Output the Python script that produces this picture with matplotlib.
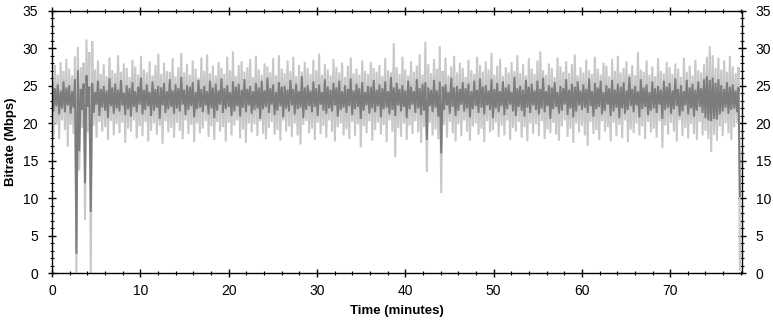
import numpy as np
import matplotlib
matplotlib.use('Agg')
import matplotlib.pyplot as plt
from matplotlib.ticker import MultipleLocator

plt.rcParams['font.family'] = ['Liberation Sans', 'DejaVu Sans']

# Bitrate samples (Mbps), in time order
light_mbps = [
    26.1, 18.2, 27.8, 19.9, 26.5, 17.9, 28.2, 20.4, 27.0, 19.1, 28.6, 16.9,
    27.3, 19.8, 26.4, 18.6, 28.9, 0.0, 30.2, 13.7, 27.5, 19.4, 28.1, 7.1,
    31.2, 18.8, 29.5, 0.0, 31.0, 19.7, 27.2, 18.1, 28.4, 20.2, 26.6, 18.9,
    27.9, 19.5, 26.3, 17.8, 28.8, 20.3, 27.1, 18.4, 26.7, 19.9, 29.1, 18.7,
    26.9, 20.1, 28.0, 17.4, 27.4, 19.3, 26.2, 18.9, 28.5, 20.4, 27.6, 18.0,
    26.5, 19.6, 29.0, 18.3, 27.2, 20.2, 26.8, 17.6, 28.3, 19.0, 26.4, 20.0,
    27.8, 18.5, 29.3, 19.7, 26.6, 17.3, 28.1, 20.3, 27.0, 18.8, 26.9, 19.4,
    28.7, 18.1, 26.3, 20.1, 27.5, 19.0, 29.4, 17.9, 26.8, 20.4, 27.9, 18.6,
    26.5, 19.8, 28.4, 17.5, 27.3, 20.0, 26.1, 18.7, 28.8, 19.3, 27.0, 20.3,
    29.2, 18.2, 26.7, 19.6, 27.7, 17.8, 26.4, 20.2, 28.2, 18.9, 27.4, 19.5,
    26.6, 17.6, 28.9, 20.1, 27.1, 18.4, 29.6, 19.7, 26.3, 20.4, 27.8, 18.0,
    28.3, 19.2, 26.9, 17.4, 27.5, 20.0, 28.6, 18.8, 26.2, 19.9, 29.0, 18.3,
    27.2, 20.3, 26.5, 18.6, 28.0, 17.9, 27.6, 19.4, 26.8, 20.2, 28.7, 18.5,
    26.4, 19.1, 29.1, 17.7, 27.3, 20.4, 26.7, 18.9, 28.4, 19.6, 27.0, 18.2,
    28.9, 20.0, 26.3, 18.4, 27.8, 17.2, 26.9, 19.8, 28.2, 20.3, 27.4, 18.7,
    26.6, 19.3, 28.5, 17.8, 27.1, 20.1, 29.3, 18.6, 26.5, 19.7, 27.9, 18.1,
    27.2, 20.4, 26.4, 18.9, 28.6, 17.6, 27.5, 19.5, 26.8, 20.0, 28.1, 18.4,
    26.2, 19.2, 27.7, 17.9, 28.8, 20.2, 26.7, 18.3, 27.3, 19.9, 26.5, 16.8,
    28.4, 19.6, 27.0, 18.7, 26.6, 20.3, 28.2, 17.7, 27.4, 19.1, 26.9, 20.1,
    27.8, 18.5, 26.3, 19.8, 28.7, 17.5, 27.1, 20.4, 26.8, 18.9, 30.7, 15.5,
    27.5, 19.4, 26.6, 18.2, 28.9, 20.0, 27.2, 17.8, 26.4, 19.7, 28.3, 18.6,
    26.9, 20.3, 27.7, 18.8, 29.2, 17.4, 26.5, 19.5, 30.9, 13.5, 27.9, 20.1,
    26.7, 18.4, 28.6, 19.2, 27.3, 17.9, 30.3, 10.7, 27.0, 19.8, 28.8, 18.1,
    26.4, 20.2, 27.6, 18.7, 29.0, 17.6, 26.8, 19.9, 28.1, 18.3, 27.4, 20.4,
    26.2, 18.9, 28.5, 17.7, 27.1, 19.6, 26.6, 20.0, 28.9, 18.5, 27.8, 19.3,
    26.9, 17.5, 28.3, 20.3, 27.2, 18.8, 29.4, 19.1, 26.5, 20.1, 27.7, 18.2,
    28.6, 19.7, 26.3, 18.4, 27.5, 20.4, 26.8, 17.8, 28.2, 19.4, 27.0, 18.9,
    29.1, 20.2, 26.7, 18.1, 27.9, 19.5, 26.4, 17.6, 28.7, 20.0, 27.3, 18.6,
    26.6, 19.9, 28.4, 18.3, 29.6, 20.3, 27.1, 17.9, 26.5, 19.2, 28.0, 18.7,
    27.4, 20.1, 26.2, 18.5, 28.8, 17.7, 27.6, 19.6, 26.9, 20.4, 28.3, 18.2,
    26.7, 19.3, 27.9, 17.4, 29.2, 20.0, 26.4, 18.8, 27.5, 19.7, 26.8, 18.4,
    28.5, 17.0, 27.1, 20.2, 26.6, 18.6, 28.9, 19.1, 27.3, 17.8, 26.5, 20.3,
    28.1, 18.9, 27.7, 19.5, 26.3, 17.6, 28.6, 20.1, 27.0, 18.3, 29.0, 19.8,
    26.8, 18.0, 27.4, 20.4, 28.3, 17.5, 26.6, 19.2, 27.8, 18.7, 26.4, 20.0,
    29.5, 18.4, 27.2, 19.6, 26.9, 17.9, 28.4, 20.2, 26.5, 18.8, 27.6, 19.3,
    26.3, 18.1, 28.7, 20.3, 27.0, 16.7, 26.7, 19.7, 28.2, 18.5, 27.5, 20.1,
    26.6, 18.9, 28.0, 17.6, 27.3, 20.4, 26.2, 18.3, 28.8, 19.4, 26.9, 18.0,
    27.7, 19.9, 26.4, 18.6, 28.5, 17.8, 27.1, 20.2, 26.8, 18.4, 27.9, 19.0,
    28.9, 17.9, 30.3, 16.2, 29.1, 18.5, 27.4, 17.7, 28.8, 19.6, 27.2, 18.3,
    28.4, 20.0, 26.9, 18.7, 29.0, 17.8, 27.6, 19.5, 26.7, 20.1, 27.5, 0.5,
]
dark_mbps = [
    26.3, 21.6, 24.7, 22.3, 25.2, 21.2, 24.4, 22.0, 25.6, 21.5, 24.8, 22.4,
    25.1, 21.3, 24.3, 22.1, 25.9, 2.6, 27.1, 16.3, 24.6, 21.8, 25.3, 12.0,
    26.4, 22.2, 24.9, 8.2, 25.4, 21.4, 24.2, 22.5, 25.7, 21.0, 24.6, 22.1,
    25.0, 21.7, 24.4, 20.7, 26.0, 22.3, 24.8, 21.3, 25.3, 22.0, 24.5, 21.6,
    25.8, 22.4, 24.1, 21.1, 25.1, 21.9, 24.7, 20.9, 25.5, 22.2, 24.3, 21.5,
    24.9, 22.5, 26.1, 21.2, 24.5, 21.8, 25.2, 22.3, 24.2, 21.0, 25.6, 21.7,
    24.6, 22.1, 25.0, 20.6, 24.8, 22.4, 25.4, 21.4, 24.3, 21.9, 25.9, 22.2,
    24.4, 21.3, 25.2, 22.0, 24.7, 21.6, 26.2, 22.5, 24.5, 21.1, 25.1, 21.8,
    24.9, 22.3, 25.5, 20.8, 24.2, 21.9, 25.8, 22.1, 24.6, 21.5, 25.0, 22.4,
    24.3, 21.2, 25.7, 22.0, 24.8, 20.7, 25.3, 21.7, 24.4, 22.5, 26.0, 21.4,
    24.7, 21.9, 25.1, 22.2, 24.2, 21.0, 25.6, 21.6, 24.9, 22.3, 25.3, 20.9,
    24.5, 22.1, 25.9, 21.5, 24.6, 22.4, 25.0, 21.3, 24.3, 21.8, 25.4, 22.0,
    24.8, 20.6, 25.7, 21.9, 24.4, 22.2, 26.1, 21.4, 24.7, 22.5, 25.2, 21.1,
    24.2, 21.7, 25.5, 22.3, 24.9, 20.8, 25.0, 22.0, 24.5, 21.6, 25.8, 22.4,
    24.6, 21.2, 25.3, 21.9, 24.3, 22.1, 26.3, 20.7, 24.8, 21.8, 25.1, 22.3,
    24.4, 21.5, 25.6, 22.2, 24.7, 21.0, 25.2, 22.5, 24.2, 21.7, 25.9, 21.3,
    24.9, 22.0, 24.5, 21.6, 25.4, 22.4, 24.8, 20.9, 25.7, 21.8, 24.3, 22.1,
    25.1, 21.4, 24.6, 22.3, 26.0, 21.1, 24.4, 21.9, 25.3, 22.2, 24.7, 20.6,
    25.5, 21.7, 24.2, 22.4, 25.0, 21.3, 24.9, 22.0, 25.8, 21.5, 24.5, 22.3,
    25.2, 20.8, 24.7, 21.9, 25.6, 22.1, 24.3, 21.2, 26.2, 21.8, 24.8, 21.0,
    25.4, 22.4, 24.6, 21.6, 25.1, 22.2, 24.4, 20.7, 25.7, 21.9, 24.9, 22.5,
    24.3, 21.4, 25.9, 22.0, 24.7, 21.1, 25.3, 21.7, 25.5, 17.8, 24.8, 22.3,
    24.5, 21.5, 25.8, 22.1, 24.4, 20.9, 25.6, 16.0, 24.9, 21.8, 25.2, 22.4,
    24.2, 21.3, 26.1, 22.2, 24.8, 21.0, 25.0, 21.7, 24.6, 22.5, 25.5, 21.6,
    24.7, 22.0, 25.3, 20.8, 24.3, 21.9, 25.7, 22.3, 24.5, 21.4, 26.0, 22.1,
    24.9, 21.2, 25.1, 22.4, 24.4, 21.8, 25.9, 20.7, 24.6, 22.0, 25.4, 21.5,
    24.3, 22.3, 25.6, 21.1, 24.8, 21.9, 25.2, 22.5, 24.2, 21.6, 26.2, 21.0,
    24.7, 22.2, 25.0, 21.7, 24.5, 20.9, 25.8, 22.1, 24.9, 21.4, 25.3, 22.4,
    24.4, 21.8, 25.7, 21.2, 24.6, 22.0, 26.1, 21.5, 24.3, 22.3, 25.1, 20.6,
    24.8, 21.9, 25.5, 22.2, 24.2, 21.3, 25.0, 21.7, 24.7, 22.5, 25.9, 21.1,
    24.5, 22.0, 25.3, 20.8, 24.9, 21.6, 25.6, 22.4, 24.4, 21.8, 25.2, 22.1,
    24.6, 21.4, 26.0, 22.3, 24.3, 20.9, 25.4, 21.9, 24.8, 22.2, 25.7, 21.2,
    24.2, 21.7, 25.1, 22.5, 24.7, 21.0, 25.8, 21.6, 24.5, 22.1, 25.3, 20.7,
    24.9, 22.0, 25.5, 21.3, 24.4, 21.8, 26.2, 22.3, 24.6, 21.5, 25.0, 22.4,
    24.3, 20.8, 25.9, 21.9, 24.8, 22.2, 25.2, 21.1, 24.2, 21.7, 25.6, 22.0,
    24.7, 21.4, 25.0, 22.5, 24.5, 20.6, 25.7, 21.8, 24.9, 22.1, 25.4, 21.3,
    24.4, 21.9, 26.0, 22.3, 24.6, 21.0, 25.1, 21.6, 24.3, 22.4, 25.8, 21.2,
    24.8, 22.0, 25.3, 20.9, 24.5, 21.7, 25.6, 22.2, 24.7, 21.4, 25.9, 20.7,
    26.3, 20.4, 25.8, 20.3, 26.1, 20.6, 25.4, 20.5, 25.9, 21.2, 25.1, 21.6,
    24.6, 22.1, 25.5, 21.3, 24.9, 21.8, 25.2, 22.0, 24.4, 21.5, 24.8, 10.3,
]
duration_min = 77.9

x_ticks = [0, 10, 20, 30, 40, 50, 60, 70]
y_ticks = [0, 5, 10, 15, 20, 25, 30, 35]

t = np.linspace(0, duration_min, len(light_mbps))

W, H = 773, 321
fig = plt.figure(figsize=(W / 100, H / 100), dpi=100)
x0, x1, ytop, ybot = 52, 741.7, 11, 273.3
ax = fig.add_axes([x0 / W, 1 - ybot / H, (x1 - x0) / W, (ybot - ytop) / H])

ax.plot(t, light_mbps, color='#c8c8c8', lw=1.5, solid_joinstyle='bevel')
ax.plot(t, dark_mbps, color='#7c7c7c', lw=1.4, solid_joinstyle='bevel')

ax.set_xlim(0, 78.1)
ax.set_ylim(0, 35)
ax.set_xticks(x_ticks)
ax.set_yticks(y_ticks)
ax.xaxis.set_minor_locator(MultipleLocator(2))
ax.yaxis.set_minor_locator(MultipleLocator(1))

for s in ax.spines.values():
    s.set_linewidth(1.0)
    s.set_color('black')
    s.set_zorder(5)

ax.tick_params(which='major', direction='inout', length=6, width=1,
               top=True, right=True, labelright=True, labelsize=10, pad=5)
ax.tick_params(which='minor', direction='inout', length=3, width=0.8,
               top=True, right=True)
ax.tick_params(axis='y', which='major', pad=7)

ax.set_xlabel('Time (minutes)', fontsize=9.5, fontweight='bold')
ax.set_ylabel('Bitrate (Mbps)', fontsize=9.5, fontweight='bold')
ax.yaxis.set_label_coords(-0.051, 0.5)
ax.xaxis.set_label_coords(0.5, -0.121)

fig.savefig('out.png', dpi=100)
